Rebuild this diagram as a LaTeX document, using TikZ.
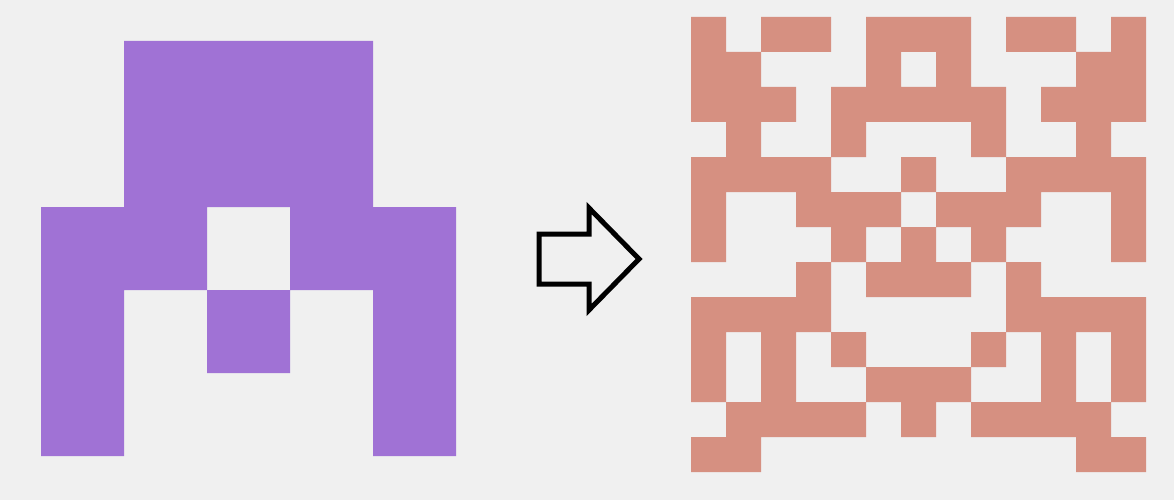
\documentclass[tikz,border=0pt]{standalone}
\definecolor{bgc}{RGB}{240,240,240}
\definecolor{purplec}{RGB}{160,114,213}
\definecolor{salmonc}{RGB}{214,144,129}
\begin{document}
\begin{tikzpicture}[x=1pt,y=-1pt,
  arrowoutline/.style={draw=black,line width=5pt,miter limit=10,line join=miter}]
\fill[bgc] (0,0) rectangle (1174,500);
\useasboundingbox (0,0) rectangle (1174,500);
% left pattern
\fill[purplec]
  \foreach \r/\cs in {0/{1,2,3},1/{1,2,3},2/{0,1,3,4},3/{0,2,4},4/{0,4}}{
    \foreach \c in \cs {
      ({41+83*\c},{41+83*\r}) rectangle ++(83,83)
    }
  };
% right pattern
\fill[salmonc]
  \foreach \r/\cs in {
    0/{0,2,3,5,6,7,9,10,12},
    1/{0,1,5,7,11,12},
    2/{0,1,2,4,5,6,7,8,10,11,12},
    3/{1,4,8,11},
    4/{0,1,2,3,6,9,10,11,12},
    5/{0,3,4,5,7,8,9,12},
    6/{0,4,6,8,12},
    7/{3,5,6,7,9},
    8/{0,1,2,3,9,10,11,12},
    9/{0,2,4,8,10,12},
    10/{0,2,5,6,7,10,12},
    11/{1,2,3,4,6,8,9,10,11},
    12/{0,1,11,12}}{
    \foreach \c in \cs {
      ({691+35*\c},{17+35*\r}) rectangle ++(35,35)
    }
  };
% arrow
\draw[arrowoutline] (539,234) -- (589,234) -- (589,208) -- (639,259) -- (589,310) -- (589,284) -- (539,284) -- cycle;
\end{tikzpicture}
\end{document}
